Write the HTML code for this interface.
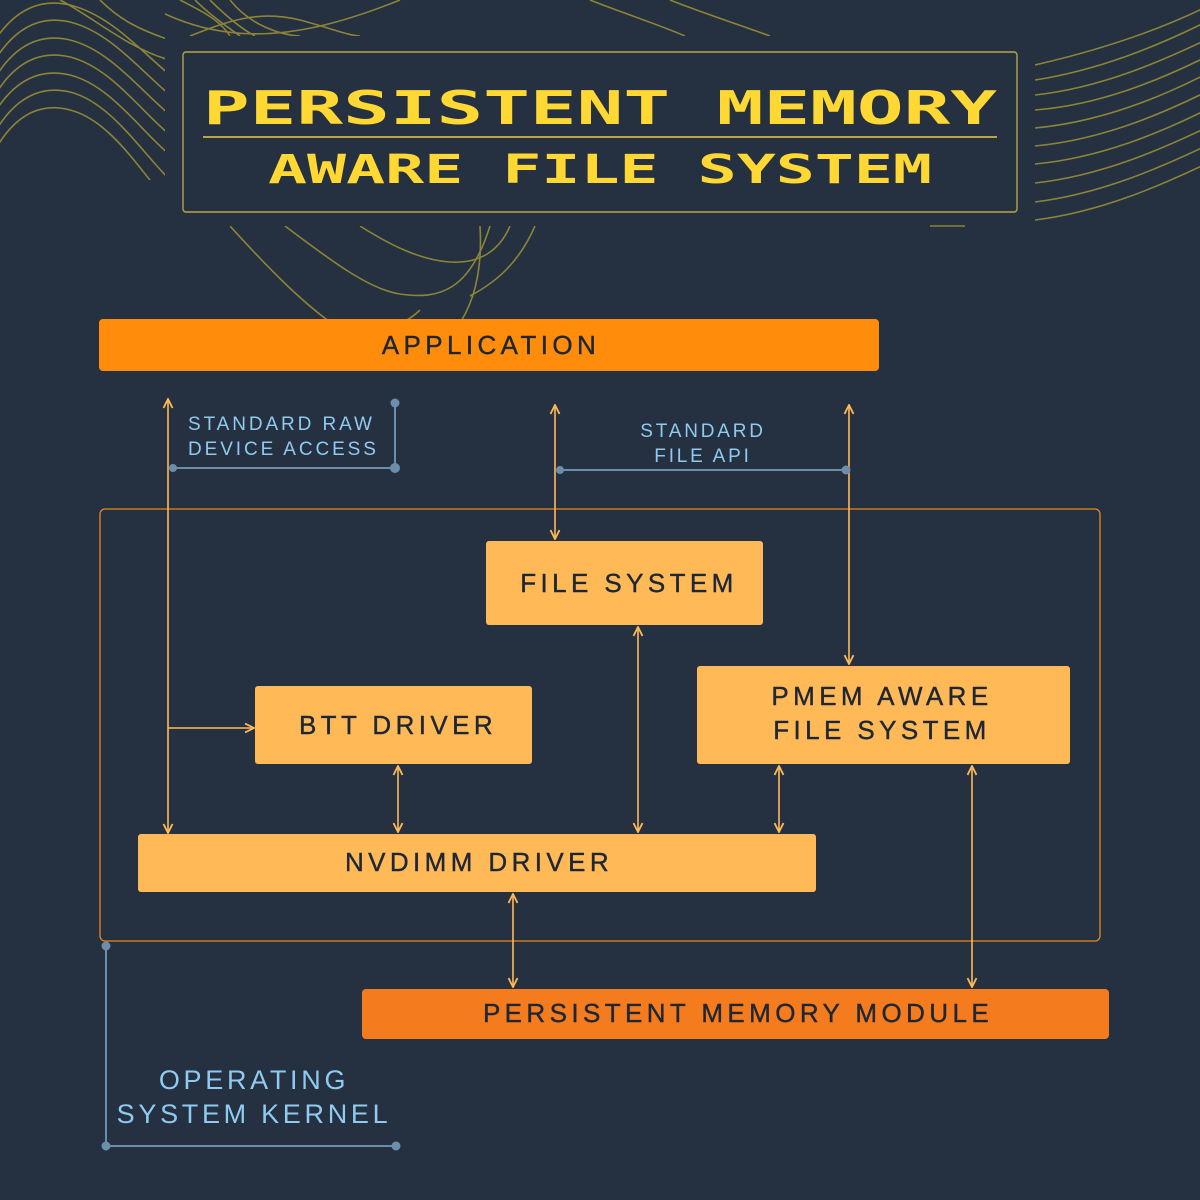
<!DOCTYPE html>
<html><head><meta charset="utf-8"><style>
html,body{margin:0;padding:0;background:#253041;}
svg{display:block}
</style></head><body>
<svg width="1200" height="1200" viewBox="0 0 1200 1200" xmlns="http://www.w3.org/2000/svg">
<rect width="1200" height="1200" fill="#253041"/>
<defs>
<clipPath id="cl"><rect x="0" y="0" width="165" height="180"/></clipPath>
<clipPath id="ct"><rect x="165" y="0" width="720" height="36"/></clipPath>
<clipPath id="cr"><rect x="1035" y="0" width="165" height="225"/></clipPath>
<clipPath id="cb"><rect x="230" y="226" width="310" height="110"/></clipPath>
<marker id="ah" viewBox="0 0 10 10" refX="9" refY="5" markerWidth="7" markerHeight="7" orient="auto-start-reverse">
<path d="M1,1 L9,5 L1,9" fill="none" stroke="#FFB957" stroke-width="1.6"/></marker>
</defs>
<g fill="none" stroke="#8C8437" stroke-width="1.6">
<g clip-path="url(#cl)">
<path d="M-5,40 C15,10 40,-2 70,5 C110,15 140,50 170,75"/>
<path d="M-5,60 C15,28 40,15 70,22 C110,32 140,70 170,95"/>
<path d="M-5,78 C15,45 40,33 70,40 C110,50 140,90 170,115"/>
<path d="M-5,95 C15,62 40,50 70,57 C110,67 140,110 170,135"/>
<path d="M-5,112 C15,80 40,68 70,75 C110,85 140,130 170,155"/>
<path d="M-5,132 C15,98 40,85 70,92 C110,102 140,150 170,180"/>
<path d="M-5,150 C15,115 40,102 70,110 C110,120 140,170 170,205"/>
<path d="M60,0 C90,15 130,50 170,60"/>
<path d="M100,0 C120,20 140,30 170,40"/>
</g>
<g clip-path="url(#ct)">
<path d="M180,0 C200,10 220,20 230,36"/>
<path d="M195,0 C210,15 225,25 240,36"/>
<path d="M210,0 C225,15 240,28 255,36"/>
<path d="M230,0 C250,25 280,35 300,36"/>
<path d="M100,-30 C200,60 300,40 400,0"/>
<path d="M190,36 C230,20 260,10 300,20 C330,28 350,36 360,36"/>
<path d="M590,0 C620,12 660,25 685,36"/>
<path d="M670,0 C700,12 740,25 770,36"/>
</g>
<g clip-path="url(#cr)">
<path d="M1035,65 C1100,50 1160,30 1210,5"/>
<path d="M1035,80 C1100,70 1160,45 1210,20"/>
<path d="M1035,95 C1100,88 1160,62 1210,38"/>
<path d="M1035,110 C1100,105 1160,80 1210,55"/>
<path d="M1035,128 C1100,122 1160,98 1210,72"/>
<path d="M1035,146 C1100,140 1160,115 1210,90"/>
<path d="M1035,164 C1100,158 1160,133 1210,108"/>
<path d="M1035,183 C1100,176 1160,150 1210,126"/>
<path d="M1035,202 C1100,194 1160,168 1210,144"/>
<path d="M1035,220 C1100,212 1160,186 1210,162"/>
</g>
<g clip-path="url(#cb)">
<path d="M230,226 C270,270 300,300 330,322 C360,340 400,330 420,310"/>
<path d="M285,226 C330,260 370,290 400,294 C440,300 470,290 490,226"/>
<path d="M360,226 C390,245 420,260 450,262 C480,264 500,250 510,226"/>
<path d="M480,226 C482,260 478,300 455,330"/>
<path d="M535,226 C520,260 500,280 470,296"/>
</g>
<path d="M930,226 L965,226"/>
</g>
<rect x="183" y="52" width="834" height="160" rx="3" fill="#253041" stroke="#B6A447" stroke-width="1.4"/>
<line x1="203" y1="137" x2="997" y2="137" stroke="#B6A447" stroke-width="2"/>
<g fill="#FFD833" font-family="'DejaVu Sans Mono','Liberation Mono',monospace" font-weight="bold">
<text x="203" y="124" font-size="46" textLength="794" lengthAdjust="spacingAndGlyphs">PERSISTENT MEMORY</text>
<text x="268" y="183" font-size="40" textLength="664" lengthAdjust="spacingAndGlyphs">AWARE FILE SYSTEM</text>
</g>
<rect x="99" y="319" width="780" height="52" rx="4" fill="#FF8C0A"/>
<rect x="100" y="509" width="1000" height="432" rx="5" fill="none" stroke="#E8881A" stroke-width="1.3"/>
<rect x="486" y="541" width="277" height="84" rx="3" fill="#FFB957"/>
<rect x="255" y="686" width="277" height="78" rx="3" fill="#FFB957"/>
<rect x="697" y="666" width="373" height="98" rx="3" fill="#FFB957"/>
<rect x="138" y="834" width="678" height="58" rx="3" fill="#FFB957"/>
<rect x="362" y="989" width="747" height="50" rx="4" fill="#F47B1E"/>
<g font-family="'Liberation Sans',sans-serif" font-size="26" fill="#1E2735" text-anchor="middle" letter-spacing="4.4" stroke="#1E2735" stroke-width="0.4">
<text x="491" y="354">APPLICATION</text>
<text x="629" y="592">FILE SYSTEM</text>
<text x="398" y="734">BTT DRIVER</text>
<text x="882" y="705">PMEM AWARE</text>
<text x="882" y="739">FILE SYSTEM</text>
<text x="479" y="871">NVDIMM DRIVER</text>
<text x="738" y="1022">PERSISTENT MEMORY MODULE</text>
</g>
<g stroke="#FFB957" stroke-width="1.6" fill="none">
<line x1="168" y1="399" x2="168" y2="833" marker-start="url(#ah)" marker-end="url(#ah)"/>
<line x1="168" y1="728" x2="254" y2="728" marker-end="url(#ah)"/>
<line x1="555" y1="405" x2="555" y2="539" marker-start="url(#ah)" marker-end="url(#ah)"/>
<line x1="849" y1="405" x2="849" y2="664" marker-start="url(#ah)" marker-end="url(#ah)"/>
<line x1="638" y1="627" x2="638" y2="832" marker-start="url(#ah)" marker-end="url(#ah)"/>
<line x1="398" y1="766" x2="398" y2="832" marker-start="url(#ah)" marker-end="url(#ah)"/>
<line x1="779" y1="766" x2="779" y2="832" marker-start="url(#ah)" marker-end="url(#ah)"/>
<line x1="513" y1="894" x2="513" y2="987" marker-start="url(#ah)" marker-end="url(#ah)"/>
<line x1="972" y1="766" x2="972" y2="987" marker-start="url(#ah)" marker-end="url(#ah)"/>
</g>
<g stroke="#6D8EAA" stroke-width="2" fill="#6D8EAA">
<polyline points="395,403 395,468 173,468" fill="none"/>
<circle cx="395" cy="403" r="3.5"/><circle cx="395" cy="468" r="4"/><circle cx="173" cy="468" r="3"/>
<line x1="560" y1="470" x2="846" y2="470"/>
<circle cx="560" cy="470" r="3"/><circle cx="846" cy="470" r="3.5"/>
<polyline points="106,946 106,1146 396,1146" fill="none"/>
<circle cx="106" cy="946" r="3.5"/><circle cx="106" cy="1146" r="3.5"/><circle cx="396" cy="1146" r="3.5"/>
</g>
<g font-family="'Liberation Sans',sans-serif" fill="#8FCBF0">
<text x="188" y="430" font-size="19" letter-spacing="2.9">STANDARD RAW</text>
<text x="188" y="455" font-size="19" letter-spacing="2.9">DEVICE ACCESS</text>
<text x="703" y="437" font-size="19" letter-spacing="2.8" text-anchor="middle">STANDARD</text>
<text x="703" y="462" font-size="19" letter-spacing="2.8" text-anchor="middle">FILE API</text>
<text x="254" y="1089" font-size="27" letter-spacing="3.7" text-anchor="middle">OPERATING</text>
<text x="254" y="1123" font-size="27" letter-spacing="3.7" text-anchor="middle">SYSTEM KERNEL</text>
</g>
</svg>
</body></html>
